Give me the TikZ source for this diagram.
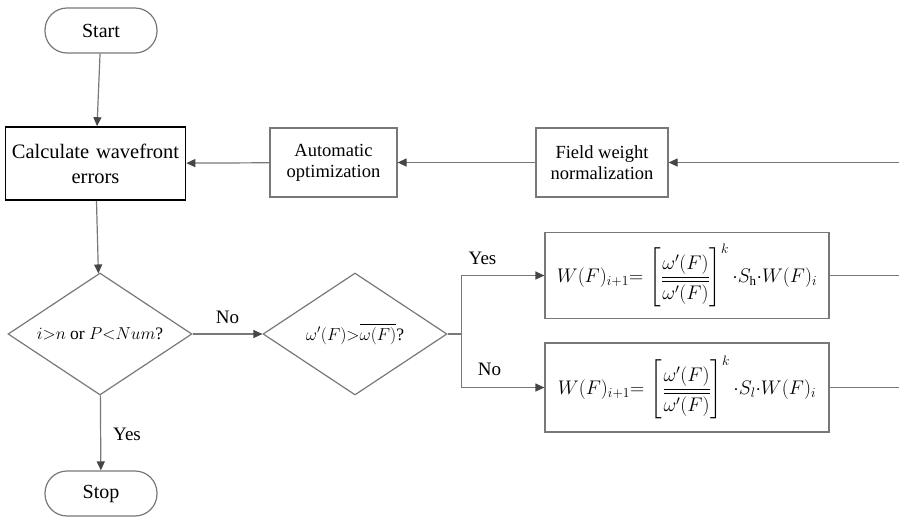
\documentclass[tikz,border=0pt]{standalone}
\usepackage{amsmath}
\usepackage{fontspec}
\setmainfont{Liberation Serif}
\usetikzlibrary{shapes.geometric,arrows.meta}
\definecolor{linegray}{RGB}{120,120,120}
\definecolor{tipgray}{RGB}{70,70,70}
\tikzset{
  base/.style={draw=linegray, line width=1.2pt, align=center, inner sep=0pt, font=\fontsize{18.5}{21}\selectfont},
  term/.style={base, rounded corners=22pt, minimum width=112pt, minimum height=45pt, font=\fontsize{20}{22}\selectfont},
  procbox/.style={base, minimum width=127pt, minimum height=69pt},
  formbox/.style={base, minimum width=284pt, minimum height=86pt, font=\fontsize{19.5}{22}\selectfont},
  decision/.style={base, diamond, aspect=1.508, minimum width=184pt, minimum height=122pt, font=\fontsize{17.5}{20}\selectfont},
  conn/.style={draw=linegray, line width=1.2pt, -{Triangle[length=9pt,width=8pt,color=tipgray]}},
  plain/.style={draw=linegray, line width=1.2pt},
  lbl/.style={font=\fontsize{19}{21}\selectfont, inner sep=0pt}
}
\begin{document}
\begin{tikzpicture}[x=1pt,y=-1pt]
\useasboundingbox (0,0) rectangle (899,520);
\node[term] (start) at (101,30.5) {Start};
\node[base, draw=black, line width=1.6pt, minimum width=174pt, minimum height=73pt, text width=180pt, font=\fontsize{20.5}{25}\selectfont] (calc) at (95.5,163.5) {Calculate wavefront\\errors};
\node[procbox] (auto) at (333.5,162.5) {Automatic\\optimization};
\node[procbox, minimum width=132pt] (field) at (602,162.5) {Field weight\\normalization};
\node[decision] (d1) at (100,334) {$i{>}n$ or $P{<}Num$?};
\node[decision] (d2) at (355,334) {$\omega'(F){>}\overline{\omega(F)}$?};
\node[term] (stop) at (101,493.5) {Stop};
\node[formbox] (fy) at (687,275.5) {\scalebox{0.95}{$W(F)_{i+1}{=}\,\left[\dfrac{\omega'(F)}{\overline{\omega'(F)}}\right]^{k}{\cdot}S_{\mathrm{h}}{\cdot}W(F)_{i}$}};
\node[formbox, minimum height=89pt] (fn) at (687,387.5) {\scalebox{0.95}{$W(F)_{i+1}{=}\,\left[\dfrac{\omega'(F)}{\overline{\omega'(F)}}\right]^{k}{\cdot}S_{l}{\cdot}W(F)_{i}$}};
\coordinate (inR) at (899,162.5);
\coordinate (outY) at (899,275.5);
\coordinate (outN) at (899,387.5);
\coordinate (br) at (461.5,334);
\draw[conn] (start) -- (calc);
\draw[conn] (inR) -- (field);
\draw[conn] (field) -- (auto);
\draw[conn] (auto) -- (calc);
\draw[conn] (calc) -- (d1);
\draw[conn] (d1) -- node[lbl, above=10pt] {No} (d2);
\draw[conn] (d1) -- node[lbl, right=12pt, pos=0.52] {Yes} (stop);
\draw[plain] (d2.east) -- (br);
\draw[conn] (br) |- (fy.west);
\draw[conn] (br) |- (fn.west);
\node[lbl] (lyes) at (482.5,258) {Yes};
\node[lbl] (lno) at (489.5,369) {No};
\draw[plain] (fy) -- (outY);
\draw[plain] (fn) -- (outN);
\end{tikzpicture}
\end{document}
